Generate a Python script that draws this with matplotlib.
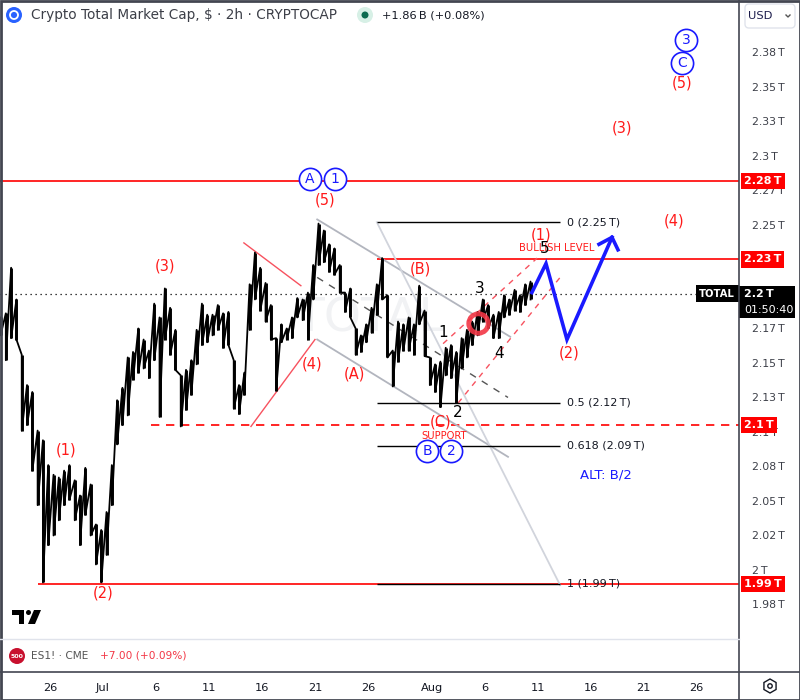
import matplotlib
matplotlib.use("Agg")
import matplotlib.pyplot as plt
import matplotlib.dates as mdates
import matplotlib.patches as mpatches
import matplotlib.transforms as mtransforms
import numpy as np
import pandas as pd

# 12h high/low of TOTAL, trillion USD
bar_start = "2024-06-21 08:00"
highs = [2.183, 2.186, 2.219, 2.196, 2.156, 2.134, 2.129, 2.101, 2.094, 2.076,
         2.069, 2.067, 2.072, 2.076, 2.065, 2.054, 2.074, 2.062, 2.033, 2.029,
         2.042, 2.076, 2.123, 2.132, 2.154, 2.158, 2.175, 2.167, 2.159, 2.193,
         2.183, 2.204, 2.190, 2.174, 2.141, 2.145, 2.152, 2.174, 2.193, 2.185,
         2.185, 2.192, 2.186, 2.187, 2.152, 2.134, 2.143, 2.207, 2.230, 2.219,
         2.208, 2.192, 2.168, 2.178, 2.175, 2.183, 2.197, 2.196, 2.201, 2.221,
         2.251, 2.246, 2.236, 2.233, 2.221, 2.201, 2.204, 2.175, 2.170, 2.178,
         2.190, 2.207, 2.226, 2.199, 2.159, 2.180, 2.178, 2.183, 2.178, 2.206,
         2.188, 2.154, 2.149, 2.151, 2.161, 2.163, 2.158, 2.168, 2.174, 2.180,
         2.187, 2.196, 2.192, 2.185, 2.187, 2.199, 2.196, 2.203, 2.199, 2.207,
         2.209]
lows = [2.170, 2.152, 2.168, 2.167, 2.101, 2.105, 2.072, 2.047, 1.991, 2.018,
        2.025, 2.036, 2.047, 2.051, 2.036, 2.018, 2.040, 2.025, 2.004, 1.991,
        2.011, 2.047, 2.091, 2.105, 2.112, 2.138, 2.143, 2.146, 2.139, 2.152,
        2.111, 2.167, 2.156, 2.145, 2.104, 2.116, 2.127, 2.149, 2.163, 2.165,
        2.170, 2.174, 2.161, 2.163, 2.117, 2.113, 2.127, 2.174, 2.196, 2.188,
        2.180, 2.167, 2.130, 2.165, 2.167, 2.168, 2.183, 2.181, 2.167, 2.196,
        2.221, 2.223, 2.216, 2.214, 2.201, 2.187, 2.183, 2.156, 2.158, 2.165,
        2.172, 2.185, 2.196, 2.154, 2.133, 2.151, 2.159, 2.159, 2.156, 2.178,
        2.155, 2.134, 2.129, 2.118, 2.141, 2.139, 2.121, 2.146, 2.154, 2.163,
        2.170, 2.180, 2.175, 2.168, 2.168, 2.183, 2.185, 2.188, 2.187, 2.192,
        2.196]
last_price = 2.2

# price scale (2.225 and 2.2 sit under the tags, as on the chart)
tick_vals = [2.375, 2.35, 2.325, 2.3, 2.275, 2.25, 2.175, 2.15,
             2.125, 2.1, 2.075, 2.05, 2.025, 2.0, 1.975]
tick_text = ["2.38\u2009T", "2.35\u2009T", "2.33\u2009T", "2.3\u2009T", "2.27\u2009T",
             "2.25\u2009T", "2.17\u2009T", "2.15\u2009T",
             "2.13\u2009T", "2.1\u2009T", "2.08\u2009T", "2.05\u2009T", "2.02\u2009T",
             "2\u2009T", "1.98\u2009T"]

# time scale
date_ticks = ["2024-06-26", "2024-07-01", "2024-07-06", "2024-07-11", "2024-07-16",
              "2024-07-21", "2024-07-26", "2024-08-01", "2024-08-06", "2024-08-11",
              "2024-08-16", "2024-08-21", "2024-08-26"]
date_text = ["26", "Jul", "6", "11", "16", "21", "26", "Aug", "6", "11", "16", "21", "26"]

# key levels
level_top = 2.282
level_bull = 2.225
level_support = 2.105
level_low = 1.990
fib_levels = [2.252, 2.121, 2.090, 1.990]
fib_text = ["0 (2.25\u2009T)", "0.5 (2.12\u2009T)", "0.618 (2.09\u2009T)", "1 (1.99\u2009T)"]

RED = "#ff1a1a"
BLUE = "#1a1aff"
INK = "#131722"


def d(s):
    return mdates.date2num(pd.Timestamp(s))


fig = plt.figure(figsize=(8, 7), dpi=100)
fig.patch.set_facecolor("white")

ax = fig.add_axes([0, 61 / 700, 739 / 800, 639 / 700])
x_left, x_right = d("2024-06-21 06:48"), d("2024-08-30 00:00")
ax.set_xlim(x_left, x_right)
ax.set_ylim(1.950, 2.413)
for s in ax.spines.values():
    s.set_visible(False)
ax.set_xticks([])
ax.yaxis.tick_right()
ax.set_yticks(tick_vals)
ax.set_yticklabels(tick_text)
ax.tick_params(axis="y", length=0, pad=9, labelsize=7.8, labelcolor="#3c3f48")

# watermark
ax.text(d("2024-07-26 04:00"), 2.182, "TOTAL", fontsize=34, color="#f1f2f4",
        ha="center", va="center", zorder=0)

# price bars
t = mdates.date2num(pd.date_range(bar_start, periods=len(highs), freq="12h"))
ax.vlines(t, lows, highs, color="black", lw=2.1, zorder=3)
zx = np.repeat(t, 2)
zy = np.column_stack([highs, lows]).ravel()
ax.plot(zx, zy, color="black", lw=1.3, zorder=3)

# horizontal levels
ax.axhline(last_price, color="black", lw=0.9, ls=(0, (1, 3)), zorder=2)
ax.hlines(level_top, x_left, x_right, color="red", lw=1.2, zorder=2)
ax.hlines(level_bull, d("2024-07-26 20:00"), x_right, color="red", lw=1.2, zorder=2)
ax.hlines(level_support, d("2024-07-05 13:00"), x_right, color="red", lw=1.2,
          ls=(0, (5, 4)), zorder=2)
ax.hlines(level_low, d("2024-06-24 21:00"), x_right, color="red", lw=1.2, zorder=2)

# fib retracement
fx0, fx1 = d("2024-07-26 20:00"), d("2024-08-13 03:00")
ax.hlines(fib_levels, fx0, fx1, color="black", lw=1.0, zorder=4)
for lv, txt in zip(fib_levels, fib_text):
    ax.text(d("2024-08-13 18:00"), lv, txt, fontsize=8, color=INK, ha="left", va="center", zorder=6)

# channels and trendlines
gray = "#b2b5be"
ax.plot([d("2024-07-21 05:00"), d("2024-08-08 10:00")], [2.254, 2.169], color=gray, lw=1.3, zorder=2)
ax.plot([d("2024-07-21 05:00"), d("2024-08-08 05:00")], [2.167, 2.082], color=gray, lw=1.3, zorder=2)
ax.plot([d("2024-07-21 05:00"), d("2024-08-08 05:00")], [2.212, 2.125], color="#555555", lw=1.0,
        ls=(0, (5, 5)), zorder=2)
ax.plot([d("2024-07-26 20:00"), d("2024-08-13 03:00")], [2.252, 1.989], color="#d1d4dc", lw=1.3, zorder=2)
pink = "#f7525f"
ax.plot([d("2024-07-14 07:00"), d("2024-07-19 16:00")], [2.237, 2.206], color=pink, lw=1.0, zorder=2)
ax.plot([d("2024-07-14 23:00"), d("2024-07-21 00:00")], [2.104, 2.167], color=pink, lw=1.0, zorder=2)
ax.plot([d("2024-08-02 02:00"), d("2024-08-10 23:00")], [2.164, 2.226], color=pink, lw=1.0,
        ls=(0, (4, 4)), zorder=2)
ax.plot([d("2024-08-03 12:00"), d("2024-08-13 03:00")], [2.121, 2.212], color=pink, lw=1.0,
        ls=(0, (4, 4)), zorder=2)

# breakout circle
ax.plot(d("2024-08-05 09:00"), 2.179, "o", ms=14, mfc="none", mec="#f23645", mew=3.5,
        alpha=0.9, zorder=5)

# projected path
ax.plot([d("2024-08-10 11:00"), d("2024-08-11 19:00"), d("2024-08-13 18:30"), d("2024-08-18 00:30")],
        [2.201, 2.222, 2.167, 2.241], color=BLUE, lw=2.6, zorder=6, solid_joinstyle="miter")
ax.plot([d("2024-08-16 19:00"), d("2024-08-18 00:30"), d("2024-08-18 14:00")],
        [2.236, 2.241, 2.232], color=BLUE, lw=2.6, zorder=6, solid_joinstyle="miter")

# wave labels
waves = [("(1)", "2024-06-27 12:00", 2.087, RED, 10.5), ("(2)", "2024-07-01 00:00", 1.983, RED, 10.5),
         ("(3)", "2024-07-06 20:00", 2.220, RED, 10.5), ("(4)", "2024-07-20 17:00", 2.149, RED, 10.5),
         ("(5)", "2024-07-21 22:00", 2.268, RED, 10.5), ("(A)", "2024-07-24 18:00", 2.142, RED, 10.5),
         ("(B)", "2024-07-30 22:00", 2.218, RED, 10.5), ("(C)", "2024-08-01 21:00", 2.107, RED, 10.5),
         ("SUPPORT", "2024-08-02 04:00", 2.097, RED, 7.2), ("(1)", "2024-08-11 08:00", 2.243, RED, 10.5),
         ("BULLISH LEVEL", "2024-08-12 20:00", 2.233, RED, 7.2), ("(2)", "2024-08-13 23:00", 2.157, RED, 10.5),
         ("(3)", "2024-08-18 23:00", 2.320, RED, 10.5), ("(4)", "2024-08-23 21:00", 2.253, RED, 10.5),
         ("(5)", "2024-08-24 15:00", 2.353, RED, 10.5),
         ("1", "2024-08-02 02:00", 2.172, "black", 11), ("2", "2024-08-03 12:00", 2.114, "black", 11),
         ("3", "2024-08-05 14:00", 2.204, "black", 11), ("4", "2024-08-07 09:00", 2.157, "black", 11),
         ("5", "2024-08-11 17:00", 2.233, "black", 11),
         ("ALT: B/2", "2024-08-17 11:00", 2.069, BLUE, 9.5)]
for txt, when, price, col, size in waves:
    ax.text(d(when), price, txt, color=col, fontsize=size, ha="center", va="center", zorder=7)

circled = [("A", "2024-07-20 13:00", 2.283), ("1", "2024-07-22 21:00", 2.283),
           ("B", "2024-07-31 14:00", 2.086), ("2", "2024-08-02 20:00", 2.086),
           ("3", "2024-08-25 00:00", 2.384), ("C", "2024-08-24 15:00", 2.367)]
for txt, when, price in circled:
    ax.plot(d(when), price, "o", ms=16, mfc="white", mec=BLUE, mew=1.2, zorder=8)
    ax.text(d(when), price, txt, color=BLUE, fontsize=10, ha="center", va="center", zorder=9)

# price scale tags
tag = mtransforms.blended_transform_factory(ax.transAxes, ax.transData)
for lv, txt in [(level_top, "2.28\u2009T"), (level_bull, "2.23\u2009T"),
                (level_support, "2.1\u2009T"), (level_low, "1.99\u2009T")]:
    ax.text(1 + 5 / 739, lv, txt, transform=tag, color="white", fontsize=8, fontweight="bold",
            ha="left", va="center", clip_on=False, zorder=10,
            bbox=dict(boxstyle="square,pad=0.28", fc="red", ec="none"))
ax.add_patch(mpatches.Rectangle((1.0, last_price - 0.0174), 56 / 739, 0.0232, transform=tag,
                                fc="black", ec="none", clip_on=False, zorder=10))
ax.text(1 + 5 / 739, last_price, "2.2\u2009T", transform=tag, color="white", fontsize=8,
        fontweight="bold", ha="left", va="center", clip_on=False, zorder=11)
ax.text(1 + 5 / 739, last_price - 0.0115, "01:50:40", transform=tag, color="white", fontsize=8,
        ha="left", va="center", clip_on=False, zorder=11)
ax.text(1 - 4 / 739, last_price, "TOTAL", transform=tag, color="white", fontsize=7.2,
        fontweight="bold", ha="right", va="center", zorder=11,
        bbox=dict(boxstyle="square,pad=0.35", fc="black", ec="none"))

# lower pane with the time scale
ax_es = fig.add_axes([0, 28 / 700, 739 / 800, 33 / 700])
ax_es.set_xlim(x_left, x_right)
ax_es.set_yticks([])
for s in ax_es.spines.values():
    s.set_visible(False)
ax_es.set_xticks([d(x) for x in date_ticks])
ax_es.set_xticklabels(date_text)
ax_es.tick_params(axis="x", length=0, pad=8, labelsize=8.2, labelcolor=INK)

# chrome in pixel coordinates
ui = fig.add_axes([0, 0, 1, 1], zorder=20)
ui.set_xlim(0, 800)
ui.set_ylim(700, 0)
ui.axis("off")
ui.patch.set_alpha(0)

ui.plot([739, 739], [0, 700], color="#434651", lw=1.2)
ui.plot([0, 739], [639, 639], color="#e0e3eb", lw=1.0)
ui.plot([0, 800], [672, 672], color="#434651", lw=1.2)
ui.add_patch(mpatches.Rectangle((0.5, 0.5), 799, 699, fc="none", ec="#434651", lw=2))

ui.add_patch(mpatches.Circle((14, 15), 8, fc="#2962ff", ec="none"))
ui.add_patch(mpatches.Circle((14, 15), 4, fc="none", ec="white", lw=1.3))
ui.text(31, 15, "Crypto Total Market Cap, $ \u00b7 2h \u00b7 CRYPTOCAP", fontsize=9.8,
        color="#3c3f48", ha="left", va="center")
ui.add_patch(mpatches.Circle((365, 15), 8, fc="#d7f0e6", ec="none"))
ui.add_patch(mpatches.Circle((365, 15), 3.5, fc="#0b6b4f", ec="none"))
ui.text(382, 15, "+1.86\u2009B (+0.08%)", fontsize=8.2, color=INK, ha="left", va="center")

ui.add_patch(mpatches.FancyBboxPatch((745, 4), 50, 24, boxstyle="round,pad=0,rounding_size=4",
                                     fc="white", ec="#e0e3eb", lw=1))
ui.text(748, 16, "USD", fontsize=8.2, color="#1a1a4a", ha="left", va="center")
ui.plot([786, 788, 790], [15, 17, 15], color="#555555", lw=1)

ui.add_patch(mpatches.Polygon([(12, 610), (24, 610), (24, 624), (19, 624), (19, 615), (12, 615)],
                              fc="black", ec="none"))
ui.add_patch(mpatches.Circle((28.5, 612.5), 2.5, fc="black", ec="none"))
ui.add_patch(mpatches.Polygon([(34, 610), (41, 610), (35, 624), (28, 624)], fc="black", ec="none"))

ui.add_patch(mpatches.Circle((17, 656), 8, fc="#c8102e", ec="none"))
ui.text(17, 656.5, "500", fontsize=4.5, color="white", fontweight="bold", ha="center", va="center")
ui.text(31, 656, "ES1! \u00b7 CME", fontsize=7.6, color="#555555", ha="left", va="center")
ui.text(100, 656, "+7.00 (+0.09%)", fontsize=7.6, color="#f23645", ha="left", va="center")

ui.add_patch(mpatches.RegularPolygon((770, 686), 6, radius=7, orientation=0,
                                     fc="none", ec="#131722", lw=1))
ui.add_patch(mpatches.Circle((770, 686), 2.2, fc="none", ec="#131722", lw=1))

fig.savefig("out.png", dpi=100, facecolor="white")
